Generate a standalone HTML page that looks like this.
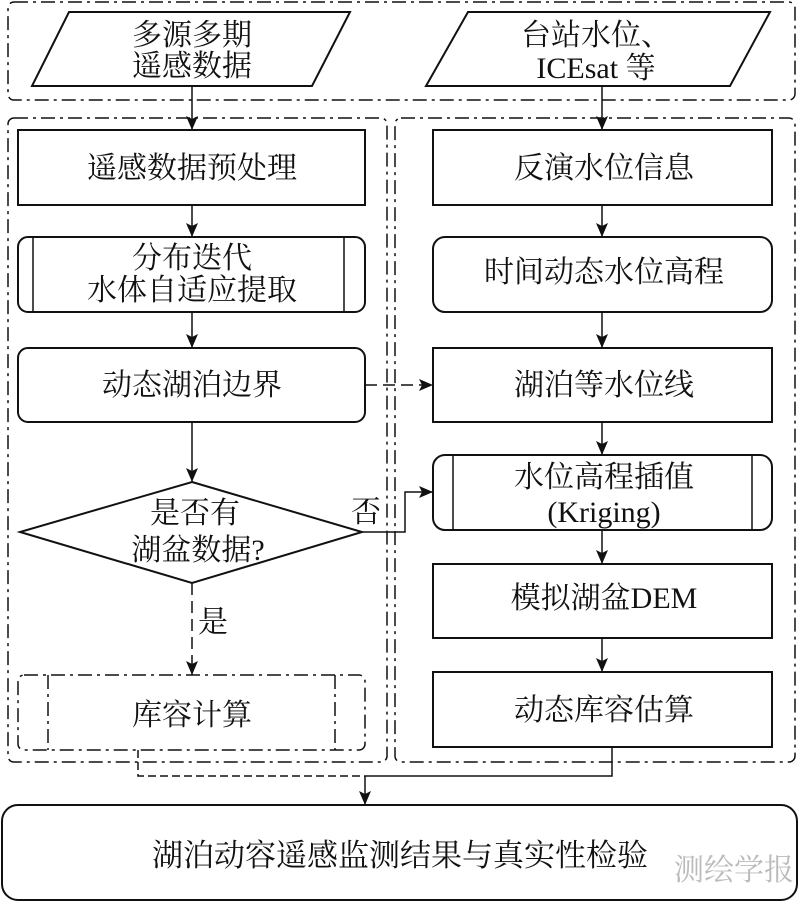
<!DOCTYPE html>
<html><head><meta charset="utf-8"><style>
html,body{margin:0;padding:0;background:#fff}
svg text{font-family:"Liberation Serif","Noto Serif CJK SC","Noto Sans CJK SC",serif;fill:#111}
</style></head><body>
<svg width="800" height="902" viewBox="0 0 800 902" xmlns="http://www.w3.org/2000/svg">
<defs><marker id="b" markerWidth="14" markerHeight="12" refX="14" refY="6" orient="auto" markerUnits="userSpaceOnUse"><path d="M0,0 L14,6 L0,12 L3,6 Z" fill="#111"/></marker></defs>
<g fill="none" stroke="#111" stroke-width="1.5">
<rect x="8" y="2" width="787" height="98" rx="6" stroke-dasharray="14,5,3,5"/>
<rect x="8" y="118" width="379" height="644" rx="6" stroke-dasharray="14,5,3,5"/>
<rect x="395" y="118" width="400" height="644" rx="6" stroke-dasharray="14,5,3,5"/>
<polygon points="69,12 350,12 312,86 32,86" stroke-width="2"/>
<polygon points="468,12 770,12 730,86 426,86" stroke-width="2"/>
<rect x="18" y="130" width="347" height="75" stroke-width="2"/>
<rect x="18" y="237" width="347" height="75" rx="10" stroke-width="2"/>
<line x1="33" y1="237" x2="33" y2="312"/><line x1="344" y1="237" x2="344" y2="312"/>
<rect x="18" y="348" width="347" height="74" rx="10" stroke-width="2"/>
<polygon points="192,482 362,532 192,583 20,532" stroke-width="2"/>
<rect x="18" y="675" width="347" height="75" rx="6" stroke-dasharray="14,5,3,5"/>
<line x1="48" y1="675" x2="48" y2="750" stroke-dasharray="14,5,3,5"/><line x1="335" y1="675" x2="335" y2="750" stroke-dasharray="14,5,3,5"/>
<rect x="433" y="130" width="339" height="75" stroke-width="2"/>
<rect x="433" y="237" width="339" height="75" rx="12" stroke-width="2"/>
<rect x="433" y="348" width="339" height="74" stroke-width="2"/>
<rect x="433" y="455" width="339" height="75" rx="12" stroke-width="2"/>
<line x1="453" y1="455" x2="453" y2="530"/><line x1="752" y1="455" x2="752" y2="530"/>
<rect x="433" y="564" width="339" height="74" stroke-width="2"/>
<rect x="433" y="672" width="339" height="75" stroke-width="2"/>
<rect x="2" y="805" width="795" height="95" rx="16" stroke-width="2"/>
<line x1="192" y1="86" x2="192" y2="130" marker-end="url(#b)"/>
<line x1="602" y1="86" x2="602" y2="130" marker-end="url(#b)"/>
<line x1="192" y1="205" x2="192" y2="237" marker-end="url(#b)"/>
<line x1="192" y1="312" x2="192" y2="348" marker-end="url(#b)"/>
<line x1="192" y1="422" x2="192" y2="482" marker-end="url(#b)"/>
<line x1="192" y1="583" x2="192" y2="675" stroke-dasharray="12,6" marker-end="url(#b)"/>
<line x1="365" y1="385" x2="433" y2="385" stroke-dasharray="12,6" marker-end="url(#b)"/>
<line x1="602" y1="205" x2="602" y2="237" marker-end="url(#b)"/>
<line x1="602" y1="312" x2="602" y2="348" marker-end="url(#b)"/>
<line x1="602" y1="422" x2="602" y2="455" marker-end="url(#b)"/>
<line x1="602" y1="530" x2="602" y2="564" marker-end="url(#b)"/>
<line x1="602" y1="638" x2="602" y2="672" marker-end="url(#b)"/>
<polyline points="362,532 405,532 405,492 433,492" marker-end="url(#b)"/>
<polyline points="612,747 612,776 365,776"/>
<polyline points="138,750 138,776 365,776" stroke-dasharray="8,4"/>
<line x1="365" y1="776" x2="365" y2="805" marker-end="url(#b)"/>
</g>
<g font-size="30" text-anchor="middle">
<text x="192" y="45">多源多期</text><text x="192" y="76">遥感数据</text>
<text x="596" y="45">台站水位、</text><text x="596" y="78">ICEsat 等</text>
<text x="192" y="178">遥感数据预处理</text>
<text x="192" y="268">分布迭代</text><text x="192" y="300">水体自适应提取</text>
<text x="192" y="395">动态湖泊边界</text>
<text x="195" y="523">是否有</text><text x="198" y="560">湖盆数据?</text>
<text x="213" y="632">是</text><text x="366" y="522">否</text>
<text x="192" y="725">库容计算</text>
<text x="604" y="178">反演水位信息</text>
<text x="604" y="282">时间动态水位高程</text>
<text x="604" y="395">湖泊等水位线</text>
<text x="604" y="487">水位高程插值</text><text x="604" y="522">(Kriging)</text>
<text x="604" y="608">模拟湖盆DEM</text>
<text x="604" y="720">动态库容估算</text>
<text x="400" y="866" font-size="31">湖泊动容遥感监测结果与真实性检验</text>
<text x="734" y="880" font-size="30" style="fill:#bbb">测绘学报</text>
</g>
</svg>
</body></html>
